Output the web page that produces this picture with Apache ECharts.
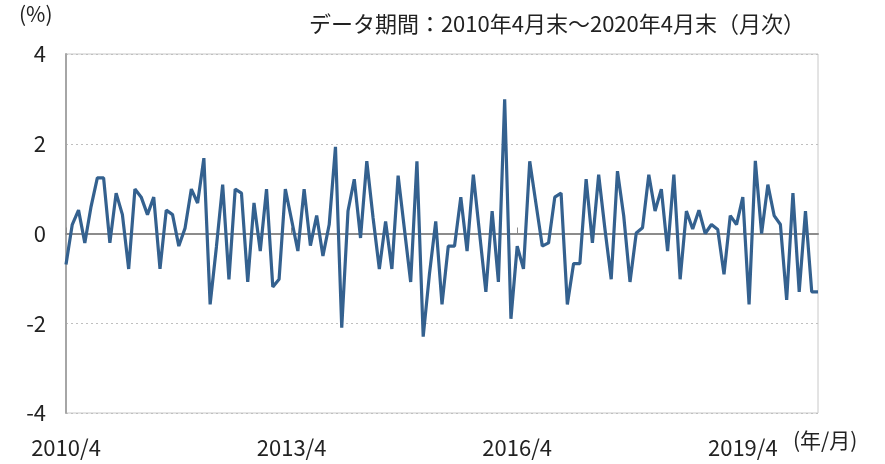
<!DOCTYPE html>
<html>
<head>
<meta charset="utf-8">
<script src="https://cdn.jsdelivr.net/npm/echarts@6/dist/echarts.min.js"></script>
<style>
  html, body { margin: 0; padding: 0; background: #fff; }
  #chart { width: 885px; height: 464px; }
</style>
</head>
<body>
<div id="chart"></div>
<script>
// monthly return (%), 2010/4 - 2020/4
const values = [
  -0.69, 0.2, 0.52, -0.21, 0.6, 1.24, 1.24, -0.21, 0.9, 0.42,
  -0.79, 0.99, 0.81, 0.42, 0.81, -0.79, 0.52, 0.42, -0.28, 0.12,
  0.99, 0.68, 1.68, -1.58, -0.3, 1.09, -1.02, 0.99, 0.9, -1.08,
  0.68, -0.39, 0.99, -1.19, -1.02, 0.99, 0.3, -0.39, 0.99, -0.27,
  0.4, -0.5, 0.2, 1.93, -2.1, 0.5, 1.21, -0.1, 1.61, 0.35,
  -0.79, 0.27, -0.79, 1.29, 0.1, -1.08, 1.61, -2.3, -0.9, 0.27,
  -1.58, -0.28, -0.28, 0.81, -0.39, 1.31, 0.0, -1.3, 0.5, -1.08,
  2.99, -1.9, -0.28, -0.79, 1.61, 0.66, -0.28, -0.21, 0.81, 0.9,
  -1.58, -0.67, -0.67, 1.21, -0.21, 1.31, 0.1, -1.02, 1.39, 0.39,
  -1.08, 0.01, 0.13, 1.31, 0.5, 0.99, -0.39, 1.31, -1.02, 0.5,
  0.1, 0.52, 0.0, 0.2, 0.09, -0.91, 0.4, 0.2, 0.81, -1.58,
  1.62, 0.0, 1.09, 0.4, 0.2, -1.48, 0.9, -1.3, 0.5, -1.3,
  -1.3
];
const yTicks = [-4, -2, 0, 2, 4];
const titleText = 'データ期間：2010年4月末～2020年4月末（月次）';

let months = [];
for (let y = 2010, m = 4; months.length < values.length; m++) {
    if (m > 12) { m = 1; y++; }
    months.push(y + '/' + m);
}

const font = '"Noto Sans CJK JP", "Noto Sans", sans-serif';
const chart = echarts.init(document.getElementById('chart'));

let option = {
    animation: false,
    textStyle: { fontFamily: font },
    grid: {
        left: 66, right: 67, top: 54, bottom: 51,
        show: true,
        borderColor: '#c8c8c8',
        borderWidth: 1
    },
    xAxis: [
        {
            type: 'category',
            data: months,
            boundaryGap: false,
            axisLine: { onZero: true, lineStyle: { color: '#8c8c8c', width: 2 } },
            axisTick: { show: true, inside: true, interval: 35, length: 6, lineStyle: { color: '#8c8c8c' } },
            axisLabel: { show: false },
            splitLine: { show: false }
        },
        {
            type: 'category',
            data: months,
            boundaryGap: false,
            position: 'bottom',
            axisLine: { show: false, onZero: false },
            axisTick: { show: false },
            axisLabel: {
                interval: 35,
                margin: 24,
                color: '#222',
                fontSize: 22,
                fontFamily: font
            }
        }
    ],
    yAxis: {
        type: 'value',
        min: yTicks[0],
        max: yTicks[yTicks.length - 1],
        interval: 2,
        axisLine: { show: true, lineStyle: { color: '#a6a6a6', width: 2 } },
        axisTick: { show: false },
        axisLabel: { margin: 20, color: '#222', fontSize: 22, fontFamily: font },
        splitLine: { lineStyle: { color: '#bfbfbf', type: [2, 3], width: 1 } }
    },
    graphic: [
        {
            type: 'text', left: 19, top: 4,
            style: { text: '(%)', fontSize: 21, fill: '#222', fontFamily: font }
        },
        {
            type: 'text', right: 80, top: 13,
            style: { text: titleText, fontSize: 22, fill: '#222', fontFamily: font }
        },
        {
            type: 'text', left: 793, top: 430,
            style: { text: '(年/月)', fontSize: 21, fill: '#222', fontFamily: font }
        }
    ],
    series: [
        {
            type: 'line',
            data: values,
            symbol: 'none',
            lineStyle: { color: '#34618f', width: 3.2 },
            z: 5
        }
    ]
};
chart.setOption(option);
</script>
</body>
</html>
